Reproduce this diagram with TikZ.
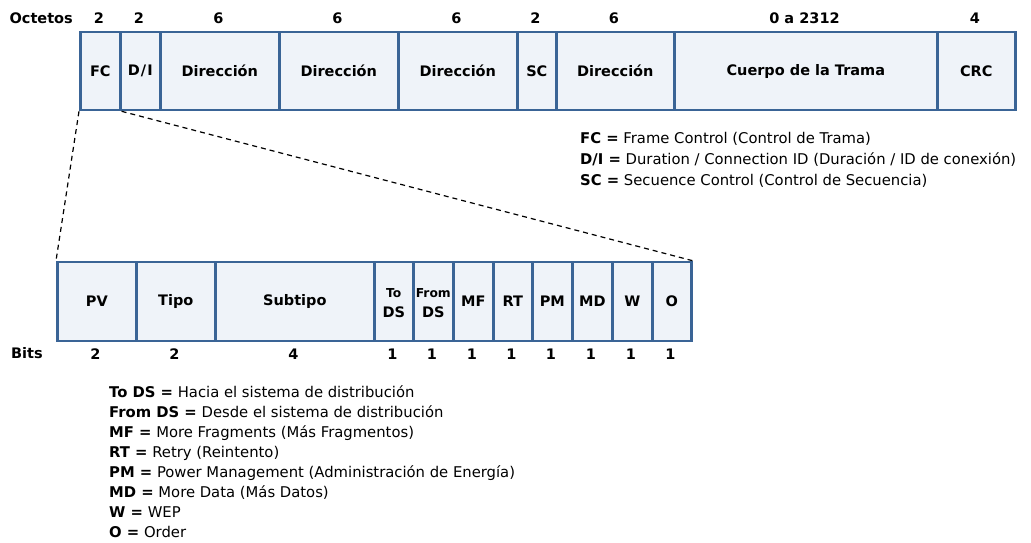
\documentclass[tikz,border=0pt]{standalone}
\usepackage{fontspec}
\setmainfont{DejaVu Sans}
\begin{document}
\definecolor{fieldline}{RGB}{58,100,150}
\definecolor{fieldfill}{RGB}{239,243,249}
\begin{tikzpicture}[x=1pt,y=-1pt,
  field/.style={draw=fieldline, fill=fieldfill, line width=2.6pt,
    rectangle, inner sep=0pt, anchor=west, font=\fontsize{14.5}{16}\selectfont\bfseries},
  count/.style={inner sep=0pt, font=\fontsize{14.5}{16}\selectfont\bfseries},
  small/.style={inner sep=0pt, font=\fontsize{12.3}{13}\selectfont\bfseries},
  legend/.style={inner sep=0pt, anchor=base west, font=\fontsize{14.8}{16}\selectfont},
  zoomline/.style={draw=black, dashed, dash pattern=on 5pt off 4pt, line width=1.2pt}]
\useasboundingbox (0,0) rectangle (1031,542);

% MAC frame, one field per octet group
\foreach \name/\x/\w/\txt/\num in {
    fc/79/40/FC/2, di/119/40/{D\kern1pt/\kern1pt I}/2,
    dira/159/119/Dirección/6, dirb/278/119/Dirección/6,
    dirc/397/119/Dirección/6, sc/516/39/SC/2,
    dird/555/118/Dirección/6, body/673/263/Cuerpo de la Trama/0 a 2312,
    crc/936/78/CRC/4} {
  \node[field, minimum width=\w pt, minimum height=78pt] (\name) at (\x,71) {\txt};
  \node[count] (\name-n) at (\x+\w/2,18) {\num};
}
\node[count, anchor=east] (octetos) at (73,18) {Octetos};

% Frame Control subfields, one per bit group
\foreach \name/\x/\w/\txt/\num in {
    pv/56/79/PV/2, tipo/135/79/Tipo/2, subtipo/214/159/Subtipo/4,
    tods/373/39/{}/1, fromds/412/40/{}/1, mf/452/40/MF/1,
    rt/492/39/RT/1, pm/531/40/PM/1, md/571/40/MD/1,
    w/611/40/W/1, o/651/39/O/1} {
  \node[field, minimum width=\w pt, minimum height=79pt] (\name) at (\x,301.5) {\txt};
  \node[count] (\name-n) at (\x+\w/2,354) {\num};
}
\node[count, anchor=west] (bits) at (11,353) {Bits};
\node[small] (tods-a) at (tods.center) [yshift=8.5pt] {To};
\node[count] (tods-b) at (tods.center) [yshift=-10.5pt] {DS};
\node[small] (fromds-a) at (fromds.center) [yshift=8.5pt] {From};
\node[count] (fromds-b) at (fromds.center) [yshift=-10.5pt] {DS};

% FC expanded into its bits
\draw[zoomline] (fc.south west) -- (pv.north west);
\draw[zoomline] (fc.south east) -- (o.north east);

% abbreviations of the frame
\node[legend] (lg1) at (580,143) {\textbf{FC =} Frame Control (Control de Trama)};
\node[legend] (lg2) at (580,164) {\textbf{D/I =} Duration / Connection ID (Duración / ID de conexión)};
\node[legend] (lg3) at (580,185) {\textbf{SC =} Secuence Control (Control de Secuencia)};

% abbreviations of the Frame Control bits
\foreach \i/\txt in {
    0/{\textbf{To DS =} Hacia el sistema de distribución},
    1/{\textbf{From DS =} Desde el sistema de distribución},
    2/{\textbf{MF =} More Fragments (Más Fragmentos)},
    3/{\textbf{RT =} Retry (Reintento)},
    4/{\textbf{PM =} Power Management (Administración de Energía)},
    5/{\textbf{MD =} More Data (Más Datos)},
    6/{\textbf{W =} WEP},
    7/{\textbf{O =} Order}} {
  \node[legend] (bl\i) at (109,397+20*\i) {\txt};
}
\end{tikzpicture}
\end{document}
